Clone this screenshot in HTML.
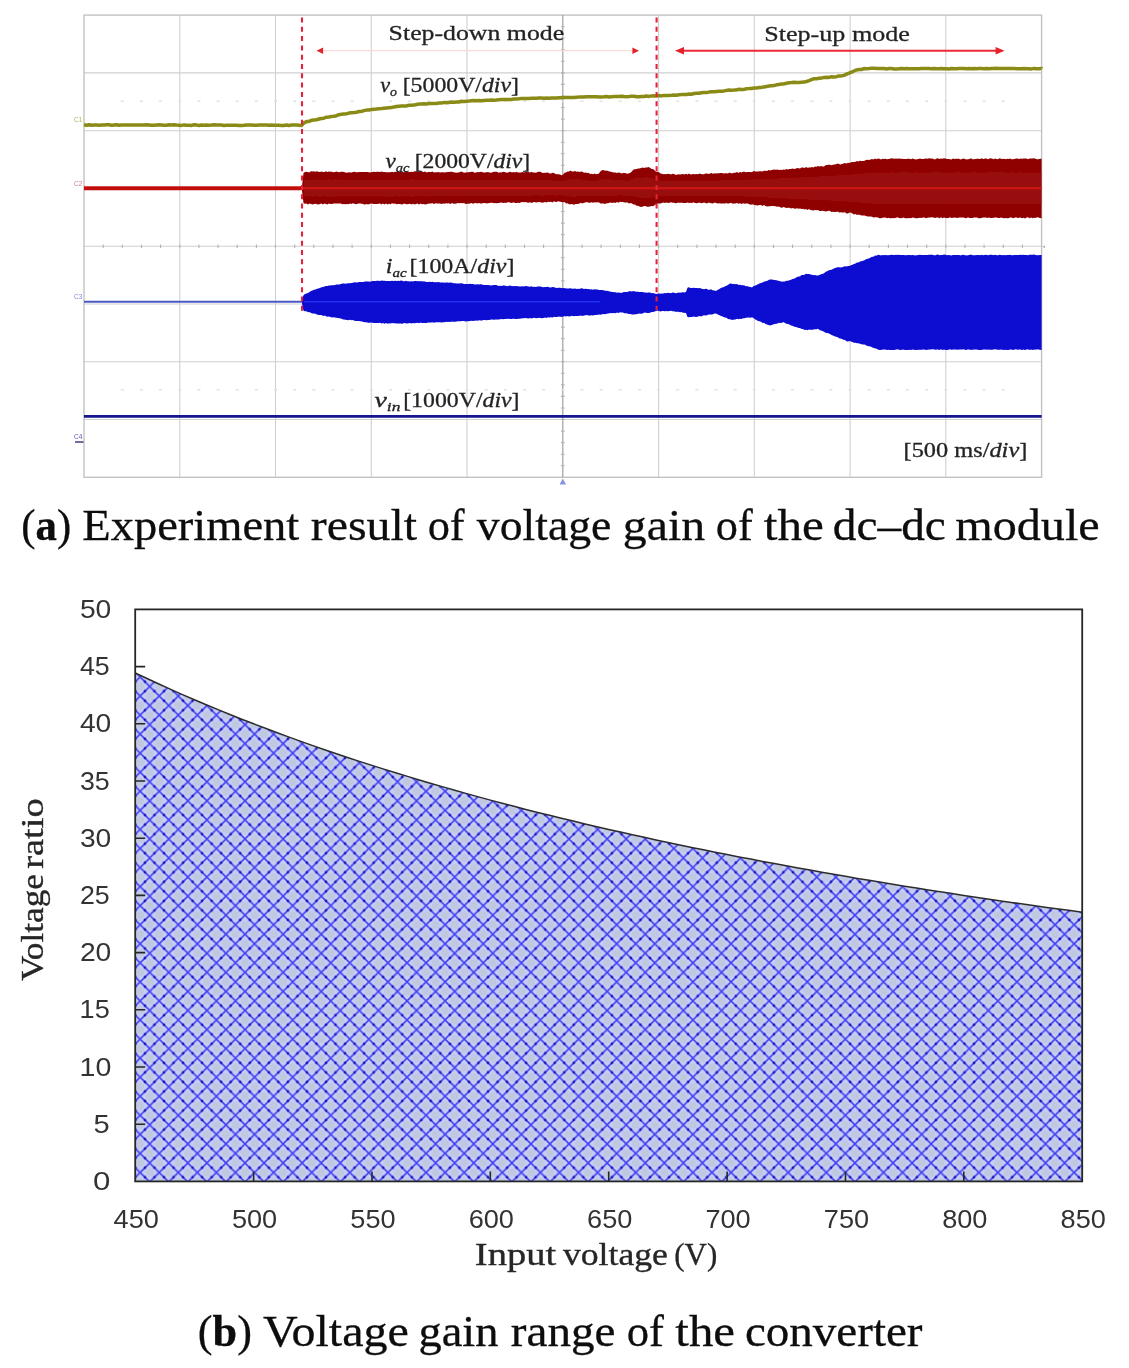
<!DOCTYPE html>
<html lang="en"><head><meta charset="utf-8"><title>Voltage gain of the dc-dc module</title>
<style>
html,body{margin:0;padding:0;background:#fff;}
body{width:1129px;height:1368px;overflow:hidden;}
svg{display:block;}
.se{font-family:"Liberation Serif","DejaVu Serif",serif;}
.sa{font-family:"Liberation Sans","DejaVu Sans",sans-serif;}
</style></head><body>
<svg width="1129" height="1368" viewBox="0 0 1129 1368">
<defs>
<filter id="soft" x="-2%" y="-2%" width="104%" height="104%"><feGaussianBlur stdDeviation="0.55"/></filter>
<filter id="softg" x="-2%" y="-2%" width="104%" height="104%"><feGaussianBlur stdDeviation="0.65"/></filter>
<pattern id="hatch" width="19.06" height="19.06" patternUnits="userSpaceOnUse" x="16.28" y="0.32">
<rect width="19.06" height="19.06" fill="#c6cdf4"/>
<path d="M9.53,0 h0 M0,9.53 h0 M19.06,9.53 h0 M9.53,19.06 h0" stroke="#bfc8de" stroke-width="7.5" stroke-linecap="round" fill="none"/>
<path d="M-1,-1 L20.06,20.06 M20.06,-1 L-1,20.06" stroke="#4441f2" stroke-width="1.55" fill="none"/>
<path d="M4.76,4.76 h0 M14.29,4.76 h0 M4.76,14.29 h0 M14.29,14.29 h0" stroke="#1d18b4" stroke-width="2.7" stroke-linecap="round" fill="none"/>
</pattern>
<clipPath id="plotclip"><rect x="134.5" y="609.4" width="948" height="572"/></clipPath>
</defs>
<rect width="1129" height="1368" fill="#ffffff"/>
<g filter="url(#softg)">
<path d="M179.8,15.1 V477.3 M275.5,15.1 V477.3 M371.3,15.1 V477.3 M467,15.1 V477.3 M658.6,15.1 V477.3 M754.3,15.1 V477.3 M850.1,15.1 V477.3 M945.8,15.1 V477.3 M84,72.9 H1041.6 M84,130.7 H1041.6 M84,188.4 H1041.6 M84,246.2 H1041.6 M84,304 H1041.6 M84,361.8 H1041.6 M84,419.5 H1041.6" stroke="#d0d0d0" stroke-width="1.1" fill="none"/>
<rect x="84" y="15.1" width="957.6" height="462.2" fill="none" stroke="#c2c2c2" stroke-width="1.4"/>
<path d="M562.8,15.1 V477.3" stroke="#a0a0a0" stroke-width="1.2"/>
<path d="M103.2,244.4 v3.6 M122.3,244.4 v3.6 M141.5,244.4 v3.6 M160.6,244.4 v3.6 M179.8,244.4 v3.6 M198.9,244.4 v3.6 M218.1,244.4 v3.6 M237.2,244.4 v3.6 M256.4,244.4 v3.6 M275.5,244.4 v3.6 M294.7,244.4 v3.6 M313.8,244.4 v3.6 M333,244.4 v3.6 M352.1,244.4 v3.6 M371.3,244.4 v3.6 M390.4,244.4 v3.6 M409.6,244.4 v3.6 M428.7,244.4 v3.6 M447.9,244.4 v3.6 M467,244.4 v3.6 M486.2,244.4 v3.6 M505.3,244.4 v3.6 M524.5,244.4 v3.6 M543.6,244.4 v3.6 M562.8,244.4 v3.6 M582,244.4 v3.6 M601.1,244.4 v3.6 M620.3,244.4 v3.6 M639.4,244.4 v3.6 M658.6,244.4 v3.6 M677.7,244.4 v3.6 M696.9,244.4 v3.6 M716,244.4 v3.6 M735.2,244.4 v3.6 M754.3,244.4 v3.6 M773.5,244.4 v3.6 M792.6,244.4 v3.6 M811.8,244.4 v3.6 M830.9,244.4 v3.6 M850.1,244.4 v3.6 M869.2,244.4 v3.6 M888.4,244.4 v3.6 M907.5,244.4 v3.6 M926.7,244.4 v3.6 M945.8,244.4 v3.6 M965,244.4 v3.6 M984.1,244.4 v3.6 M1003.3,244.4 v3.6 M1022.4,244.4 v3.6 M561,26.7 h3.6 M561,38.2 h3.6 M561,49.8 h3.6 M561,61.3 h3.6 M561,72.9 h3.6 M561,84.4 h3.6 M561,96 h3.6 M561,107.5 h3.6 M561,119.1 h3.6 M561,130.7 h3.6 M561,142.2 h3.6 M561,153.8 h3.6 M561,165.3 h3.6 M561,176.9 h3.6 M561,188.4 h3.6 M561,200 h3.6 M561,211.5 h3.6 M561,223.1 h3.6 M561,234.6 h3.6 M561,246.2 h3.6 M561,257.8 h3.6 M561,269.3 h3.6 M561,280.9 h3.6 M561,292.4 h3.6 M561,304 h3.6 M561,315.5 h3.6 M561,327.1 h3.6 M561,338.6 h3.6 M561,350.2 h3.6 M561,361.8 h3.6 M561,373.3 h3.6 M561,384.9 h3.6 M561,396.4 h3.6 M561,408 h3.6 M561,419.5 h3.6 M561,431.1 h3.6 M561,442.6 h3.6 M561,454.2 h3.6 M561,465.7 h3.6" stroke="#b4b4b4" stroke-width="1.1" fill="none"/>
<path d="M120.8,101.2 h3 M140,101.2 h3 M159.1,101.2 h3 M178.3,101.2 h3 M197.4,101.2 h3 M216.6,101.2 h3 M235.7,101.2 h3 M254.9,101.2 h3 M274,101.2 h3 M293.2,101.2 h3 M312.3,101.2 h3 M331.5,101.2 h3 M350.6,101.2 h3 M369.8,101.2 h3 M388.9,101.2 h3 M408.1,101.2 h3 M427.2,101.2 h3 M446.4,101.2 h3 M465.5,101.2 h3 M484.7,101.2 h3 M503.8,101.2 h3 M523,101.2 h3 M542.1,101.2 h3 M561.3,101.2 h3 M580.5,101.2 h3 M599.6,101.2 h3 M618.8,101.2 h3 M637.9,101.2 h3 M657.1,101.2 h3 M676.2,101.2 h3 M695.4,101.2 h3 M714.5,101.2 h3 M733.7,101.2 h3 M752.8,101.2 h3 M772,101.2 h3 M791.1,101.2 h3 M810.3,101.2 h3 M829.4,101.2 h3 M848.6,101.2 h3 M867.7,101.2 h3 M886.9,101.2 h3 M906,101.2 h3 M925.2,101.2 h3 M944.3,101.2 h3 M963.5,101.2 h3 M982.6,101.2 h3 M1001.8,101.2 h3 M120.8,389.8 h3 M140,389.8 h3 M159.1,389.8 h3 M178.3,389.8 h3 M197.4,389.8 h3 M216.6,389.8 h3 M235.7,389.8 h3 M254.9,389.8 h3 M274,389.8 h3 M293.2,389.8 h3 M312.3,389.8 h3 M331.5,389.8 h3 M350.6,389.8 h3 M369.8,389.8 h3 M388.9,389.8 h3 M408.1,389.8 h3 M427.2,389.8 h3 M446.4,389.8 h3 M465.5,389.8 h3 M484.7,389.8 h3 M503.8,389.8 h3 M523,389.8 h3 M542.1,389.8 h3 M561.3,389.8 h3 M580.5,389.8 h3 M599.6,389.8 h3 M618.8,389.8 h3 M637.9,389.8 h3 M657.1,389.8 h3 M676.2,389.8 h3 M695.4,389.8 h3 M714.5,389.8 h3 M733.7,389.8 h3 M752.8,389.8 h3 M772,389.8 h3 M791.1,389.8 h3 M810.3,389.8 h3 M829.4,389.8 h3 M848.6,389.8 h3 M867.7,389.8 h3 M886.9,389.8 h3 M906,389.8 h3 M925.2,389.8 h3 M944.3,389.8 h3 M963.5,389.8 h3 M982.6,389.8 h3 M1001.8,389.8 h3" stroke="#e2e2e2" stroke-width="1.6" fill="none"/>
</g>
<g filter="url(#soft)">
<path d="M84,124.8 86.5,125.2 89,124.8 91.5,125.3 94,125 96.5,125.1 99,125.2 101.5,125 104,124.9 106.5,124.8 109,124.8 111.5,125.2 114,125 116.5,124.8 119,125.3 121.5,124.9 124,125 126.5,124.9 129,125.1 131.5,125.1 134,125.1 136.5,124.9 139,124.9 141.5,124.9 144,125 146.5,124.8 149,124.9 151.5,125.3 154,125.3 156.5,124.9 159,124.8 161.5,124.9 164,125.2 166.5,125.2 169,124.8 171.5,125.1 174,124.8 176.5,125.1 179,125.2 181.5,125.4 184,124.9 186.5,125.3 189,125.3 191.5,125.4 194,124.8 196.5,125.1 199,125.4 201.5,125 204,125.3 206.5,125.1 209,125.3 211.5,125.1 214,124.8 216.5,124.9 219,124.9 221.5,125 224,125.4 226.5,125.2 229,125.3 231.5,125.2 234,125.2 236.5,125.3 239,125.4 241.5,125.4 244,125.3 246.5,124.9 249,125.1 251.5,124.9 254,125.2 256.5,125.3 259,124.9 261.5,125 264,125.1 266.5,125 269,125.3 271.5,125.1 274,125.3 276.5,125.2 279,125.2 281.5,125.4 284,125.4 286.5,125 289,125.4 291.5,125.1 294,125 296.5,125.1 299,125.2 301.5,125.5 304,122.9 306.5,121.6 309,121.4 311.5,120.3 314,120 316.5,119.7 319,119 321.5,118.5 324,118.2 326.5,117.2 329,117 331.5,116.4 334,116.3 336.5,115.7 339,114.7 341.5,114.3 344,114 346.5,113.7 349,113.1 351.5,112.7 354,112.6 356.5,112.2 359,111.5 361.5,111.4 364,110.6 366.5,110.1 369,109.9 371.5,109.6 374,109.3 376.5,109.1 379,108.7 381.5,108.5 384,108.2 386.5,107.9 389,107.7 391.5,107.6 394,106.9 396.5,106.5 399,106.3 401.5,106.1 404,105.9 406.5,105.9 409,105.2 411.5,105.2 414,105.1 416.5,104.5 419,104.1 421.5,104 424,103.8 426.5,104.1 429,103.5 431.5,103.4 434,103.6 436.5,103.4 439,103.1 441.5,103.1 444,102.4 446.5,102.8 449,102.4 451.5,102.1 454,102.2 456.5,102 459,102 461.5,101.3 464,101.4 466.5,101.2 469,101.1 471.5,100.8 474,100.6 476.5,100.8 479,100.5 481.5,100.7 484,100.4 486.5,100.2 489,100.3 491.5,100.1 494,100.2 496.5,100 499,99.7 501.5,99.4 504,99.6 506.5,99.5 509,99.4 511.5,99.5 514,98.9 516.5,98.9 519,98.8 521.5,98.6 524,98.6 526.5,98.6 529,98.6 531.5,98.3 534,98.2 536.5,98.2 539,98.1 541.5,98.1 544,98.2 546.5,98.1 549,98.3 551.5,98 554,97.9 556.5,97.9 559,97.8 561.5,97.7 564,97.6 566.5,97.6 569,97.4 571.5,97.6 574,97.4 576.5,97.2 579,97.1 581.5,96.9 584,97.1 586.5,96.8 589,96.8 591.5,96.7 594,96.8 596.5,96.8 599,96.9 601.5,96.9 604,96.8 606.5,96.5 609,96.9 611.5,96.7 614,96.6 616.5,96.6 619,96.5 621.5,96.3 624,96.6 626.5,96.8 629,96.6 631.5,96.3 634,96.2 636.5,96.7 639,96.7 641.5,96.5 644,96.5 646.5,96 649,96.4 651.5,95.9 654,95.8 656.5,95.9 659,95.5 661.5,95.9 664,95.4 666.5,95.6 669,95.4 671.5,95.3 674,95.1 676.5,95.2 679,94.7 681.5,94.6 684,94.4 686.5,94.5 689,94.1 691.5,94.2 694,93.5 696.5,93.3 699,93.2 701.5,92.7 704,92.5 706.5,92.6 709,92.1 711.5,91.7 714,91.8 716.5,91.4 719,91.3 721.5,91.2 724,90.9 726.5,90.4 729,90.1 731.5,90.2 734,90.1 736.5,89.9 739,89.3 741.5,89.4 744,89.4 746.5,88.7 749,88.6 751.5,88.4 754,88.1 756.5,88.1 759,87.5 761.5,87.4 764,86.9 766.5,86.5 769,86.1 771.5,85.8 774,85.6 776.5,84.8 779,84.4 781.5,84 784,83.9 786.5,83.3 789,82.8 791.5,82.6 794,82.3 796.5,82.4 799,82.5 801.5,82.2 804,82.1 806.5,81.5 809,80.7 811.5,79.7 814,78.7 816.5,78.7 819,78.3 821.5,78.1 824,77.4 826.5,77.3 829,77.4 831.5,76.8 834,76.9 836.5,76.7 839,75.9 841.5,75.9 844,75.4 846.5,74.2 849,73.2 851.5,72.1 854,71 856.5,69.9 859,69.6 861.5,69.5 864,68.6 866.5,68.8 869,68.6 871.5,68.3 874,68.3 876.5,68.6 879,68.4 881.5,68.5 884,68.5 886.5,68.9 889,68.6 891.5,68.5 894,68.9 896.5,68.9 899,68.7 901.5,68.4 904,68.8 906.5,68.6 909,68.8 911.5,68.7 914,68.7 916.5,68.8 919,68.8 921.5,68.6 924,68.6 926.5,68.4 929,68.5 931.5,68.8 934,68.4 936.5,68.7 939,68.8 941.5,68.4 944,68.8 946.5,68.7 949,68.9 951.5,68.5 954,68.8 956.5,68.8 959,68.5 961.5,68.4 964,68.5 966.5,68.7 969,68.5 971.5,68.8 974,68.5 976.5,68.8 979,68.5 981.5,68.6 984,68.8 986.5,68.6 989,68.7 991.5,68.5 994,68.6 996.5,68.3 999,68.6 1001.5,68.6 1004,68.5 1006.5,68.4 1009,68.5 1011.5,68.5 1014,68.5 1016.5,68.8 1019,68.8 1021.5,68.8 1024,68.6 1026.5,68.8 1029,68.7 1031.5,68.9 1034,68.4 1036.5,68.8 1039,68.7 1041.5,68.6 1041.6,68.8" stroke="#8a8a16" stroke-width="3.5" fill="none" stroke-linejoin="round"/>
<path d="M84,188.3 H303" stroke="#c30d0d" stroke-width="4"/>
<path d="M302,186.1 303.5,173.1 305,171.9 306.5,171.7 308,172.2 309.5,172.2 311,171.3 312.5,171.4 314,171.2 315.5,171.7 317,171.2 318.5,171.8 320,172 321.5,171.6 323,172.1 324.5,172 326,171.3 327.5,172 329,171.6 330.5,171.8 332,171.7 333.5,172.2 335,171.9 336.5,171.6 338,172 339.5,172.3 341,171.8 342.5,171.7 344,171.9 345.5,172.6 347,172.7 348.5,172.3 350,172.6 351.5,172.5 353,172 354.5,171.7 356,172.3 357.5,172.2 359,172 360.5,171.9 362,172.1 363.5,172.1 365,171.9 366.5,171.9 368,172.1 369.5,172.6 371,172.2 372.5,171.9 374,171.8 375.5,172 377,171.7 378.5,171.7 380,172.1 381.5,171.6 383,172 384.5,171.9 386,172.3 387.5,172.3 389,172.2 390.5,172.2 392,171.8 393.5,172.2 395,171.8 396.5,172 398,171.7 399.5,171.9 401,171.4 402.5,171.6 404,172.5 405.5,171.6 407,172.1 408.5,172.1 410,172.1 411.5,171.8 413,172 414.5,171.3 416,171.3 417.5,171.5 419,171.4 420.5,171.3 422,171.4 423.5,171.9 425,171.5 426.5,172.4 428,172.1 429.5,171.9 431,172.1 432.5,171.6 434,172.4 435.5,172.3 437,172.2 438.5,171.9 440,172.4 441.5,172.3 443,172.2 444.5,172.5 446,172.2 447.5,171.9 449,172.1 450.5,171.7 452,171.7 453.5,172.3 455,172.4 456.5,172.7 458,172.5 459.5,172.2 461,171.6 462.5,172.1 464,172.7 465.5,172.5 467,172.2 468.5,172.2 470,171.9 471.5,171.8 473,171.7 474.5,172.7 476,172.4 477.5,171.9 479,172.2 480.5,171.8 482,171.9 483.5,172.6 485,172.5 486.5,172.3 488,172 489.5,172.5 491,172.8 492.5,172.2 494,171.7 495.5,171.7 497,171.7 498.5,172.8 500,172.3 501.5,172.6 503,171.8 504.5,171.9 506,172.4 507.5,172.7 509,172 510.5,171.7 512,172.6 513.5,171.9 515,172.5 516.5,171.8 518,172.4 519.5,172.6 521,172.4 522.5,172 524,172.4 525.5,171.7 527,171.9 528.5,172 530,172.6 531.5,171.7 533,172.6 534.5,172.5 536,172.7 537.5,171.9 539,171.7 540.5,171.8 542,172.7 543.5,173 545,172.8 546.5,172.7 548,172.6 549.5,173.4 551,173.6 552.5,172.8 554,173.1 555.5,174 557,174.3 558.5,174.2 560,174.6 561.5,175.3 563,174.7 564.5,172.8 566,172.4 567.5,171.6 569,171.5 570.5,170.6 572,171.6 573.5,171.4 575,171 576.5,171.8 578,171.6 579.5,172.1 581,171.4 582.5,171.7 584,172.8 585.5,172.5 587,173 588.5,172.8 590,174 591.5,173.7 593,174.3 594.5,173.6 596,174.3 597.5,174 599,173.6 600.5,171.3 602,170.3 603.5,170 605,170.8 606.5,170.5 608,170.9 609.5,171.4 611,171.8 612.5,172.3 614,172.6 615.5,172.6 617,173 618.5,172.6 620,172.8 621.5,173.6 623,172.9 624.5,173.1 626,173.3 627.5,173.7 629,173.2 630.5,172.7 632,171.3 633.5,169.4 635,169.3 636.5,168.9 638,168.6 639.5,168.6 641,168.1 642.5,167.6 644,167.9 645.5,167.6 647,167.6 648.5,167.1 650,167.8 651.5,169 653,169.1 654.5,170.3 656,171.8 657.5,171.7 659,172.3 660.5,173.6 662,173.8 663.5,174.2 665,173.9 666.5,174.3 668,173.8 669.5,174 671,174.6 672.5,173.8 674,174 675.5,174.8 677,174.8 678.5,174.2 680,174.5 681.5,174.3 683,174.1 684.5,174.5 686,173.7 687.5,174.5 689,173.5 690.5,174.5 692,174.2 693.5,173.9 695,174.2 696.5,173.9 698,174.3 699.5,173.4 701,173.9 702.5,174.3 704,174.3 705.5,173.4 707,173.4 708.5,174.1 710,173.4 711.5,173 713,173.7 714.5,173.3 716,173.6 717.5,173.3 719,173.2 720.5,173.1 722,172.9 723.5,173.6 725,173.2 726.5,173.3 728,173.4 729.5,172.6 731,173.3 732.5,173.2 734,172.7 735.5,172.7 737,172.1 738.5,172.9 740,172.1 741.5,172.4 743,171.8 744.5,171.7 746,172.2 747.5,172 749,172.1 750.5,172.1 752,172.3 753.5,171.1 755,171.6 756.5,171.5 758,171.5 759.5,171.2 761,171.2 762.5,171.4 764,170.8 765.5,170.8 767,170.9 768.5,170.1 770,170.4 771.5,169.9 773,169.8 774.5,169.6 776,169.7 777.5,169.6 779,169.9 780.5,169.8 782,170 783.5,169.5 785,169.8 786.5,169.1 788,169.4 789.5,169 791,169 792.5,168.4 794,169.1 795.5,168.8 797,167.9 798.5,168.2 800,168.6 801.5,167.4 803,167.6 804.5,167.9 806,167 807.5,167.7 809,167.4 810.5,167.4 812,167.1 813.5,167.4 815,166.6 816.5,166.7 818,165.9 819.5,166.4 821,166.1 822.5,166.6 824,166.4 825.5,165.2 827,164.9 828.5,164.8 830,164.7 831.5,165.2 833,164.8 834.5,164.6 836,164.3 837.5,163.6 839,163.9 840.5,164.4 842,164 843.5,163.6 845,162.9 846.5,163.6 848,162.8 849.5,162.9 851,162.2 852.5,162.1 854,161.9 855.5,161.7 857,161.1 858.5,161.6 860,160.8 861.5,161.1 863,160.9 864.5,160.7 866,160 867.5,159.8 869,160.1 870.5,159.5 872,159 873.5,159.6 875,158.4 876.5,159.3 878,158.6 879.5,158.7 881,159.4 882.5,158.7 884,159.1 885.5,158.7 887,159.3 888.5,159.1 890,158.8 891.5,158.3 893,158.6 894.5,158.8 896,158.5 897.5,158.8 899,158.5 900.5,158.8 902,158.8 903.5,159 905,159.1 906.5,159.1 908,158.7 909.5,158.7 911,159.2 912.5,158.6 914,159.1 915.5,159.4 917,159.3 918.5,158.9 920,158.6 921.5,158.9 923,159 924.5,158.8 926,158.6 927.5,158.7 929,158.3 930.5,158.5 932,158.4 933.5,159 935,159.4 936.5,158.4 938,158.2 939.5,159.1 941,158.6 942.5,158.8 944,158.3 945.5,158.4 947,159 948.5,158.9 950,159.2 951.5,159.4 953,158.6 954.5,158.9 956,158.7 957.5,158.8 959,158.7 960.5,159.4 962,158.9 963.5,158.4 965,159 966.5,159.4 968,159.3 969.5,158.9 971,158.2 972.5,159.2 974,159.3 975.5,159.1 977,158.7 978.5,158.7 980,159.1 981.5,158.3 983,159.1 984.5,158.8 986,158.3 987.5,159.2 989,158.7 990.5,158.3 992,158.4 993.5,159.2 995,158.4 996.5,159.1 998,159.2 999.5,158.3 1001,158.7 1002.5,159.1 1004,158.8 1005.5,159.2 1007,158.7 1008.5,159 1010,158.5 1011.5,159.2 1013,159.2 1014.5,158.9 1016,158.6 1017.5,158.6 1019,158.9 1020.5,158.4 1022,158.8 1023.5,158.6 1025,158.6 1026.5,158.6 1028,159.2 1029.5,158.4 1031,158.5 1032.5,158.4 1034,158.2 1035.5,158.7 1037,159.2 1038.5,159.3 1040,158.8 1041.5,158.7 1041.6,159.2 L1041.6,218.2 1041.5,218.3 1040,218 1038.5,217.5 1037,217.3 1035.5,218 1034,217.8 1032.5,218.3 1031,217.5 1029.5,218.3 1028,217.3 1026.5,217.5 1025,218.4 1023.5,217.8 1022,218.3 1020.5,217.4 1019,217.8 1017.5,217.9 1016,217.3 1014.5,217.7 1013,218.3 1011.5,217.4 1010,217.5 1008.5,218.3 1007,218.2 1005.5,218.1 1004,218.3 1002.5,218 1001,217.4 999.5,218.1 998,217.9 996.5,217.5 995,217.4 993.5,217.8 992,218.1 990.5,218.1 989,217.5 987.5,218 986,217.5 984.5,217.6 983,217.5 981.5,218.1 980,218.2 978.5,218.2 977,217.5 975.5,217.5 974,217.5 972.5,218.1 971,217.9 969.5,217.9 968,217.3 966.5,218.3 965,217.9 963.5,217.4 962,217.4 960.5,217.6 959,217.6 957.5,217.9 956,217.8 954.5,217.5 953,217.7 951.5,217.9 950,217.2 948.5,218 947,218.1 945.5,218.1 944,217.6 942.5,218.3 941,217.3 939.5,218.2 938,217.5 936.5,217.5 935,217.9 933.5,217.4 932,217.3 930.5,217.5 929,217.6 927.5,217.8 926,218.2 924.5,217.4 923,217.6 921.5,217.9 920,217.8 918.5,218.1 917,218.3 915.5,218.3 914,217.8 912.5,217.4 911,218.2 909.5,217.9 908,218.2 906.5,218.2 905,218.2 903.5,217.4 902,217.9 900.5,218.3 899,218 897.5,217.3 896,217.7 894.5,218.2 893,218.1 891.5,218.2 890,218.2 888.5,217.8 887,218.2 885.5,217.6 884,217.4 882.5,217.7 881,218.3 879.5,218.3 878,217.4 876.5,217.3 875,217.2 873.5,217.6 872,216.7 870.5,216.4 869,216.4 867.5,216.4 866,215.9 864.5,215.5 863,215.6 861.5,215.6 860,214.9 858.5,214.5 857,214.9 855.5,214.1 854,214.5 852.5,213.5 851,212.8 849.5,212.6 848,213.6 846.5,213.4 845,212.3 843.5,212.5 842,212.4 840.5,212.2 839,212.6 837.5,211.5 836,211.9 834.5,211.9 833,211.7 831.5,211.9 830,210.9 828.5,210.8 827,211.2 825.5,211.5 824,210.9 822.5,210.7 821,210.9 819.5,210.9 818,210.1 816.5,210.3 815,210.1 813.5,210.4 812,210.2 810.5,209.9 809,209.1 807.5,210 806,209.1 804.5,209.5 803,208.7 801.5,209.1 800,208.5 798.5,208.8 797,208.2 795.5,208.7 794,208.4 792.5,208.1 791,208.4 789.5,207.7 788,207.8 786.5,208 785,207.6 783.5,207.1 782,207.8 780.5,207.6 779,206.6 777.5,206.8 776,206.5 774.5,206 773,206.1 771.5,206.1 770,206.2 768.5,206.3 767,206.4 765.5,206.1 764,205.1 762.5,206 761,205 759.5,205 758,205.6 756.5,205.2 755,205.3 753.5,204.4 752,204.5 750.5,204.7 749,204.1 747.5,203.6 746,203.5 744.5,203.7 743,203.3 741.5,204 740,203.3 738.5,203.7 737,202.9 735.5,203.6 734,203.6 732.5,203.8 731,202.8 729.5,203.3 728,203.7 726.5,202.9 725,203.4 723.5,203.4 722,203.4 720.5,203.6 719,203.3 717.5,203.4 716,203.1 714.5,202.5 713,203.5 711.5,203.2 710,203 708.5,202.5 707,203.4 705.5,203 704,202.6 702.5,202.9 701,203.3 699.5,202.4 698,202.9 696.5,203.3 695,203.1 693.5,202.3 692,203.1 690.5,202.8 689,203.1 687.5,202.4 686,202.9 684.5,202.9 683,203 681.5,202.5 680,203 678.5,202.6 677,203.1 675.5,203.3 674,202.8 672.5,202.8 671,202.2 669.5,202.7 668,203 666.5,202.4 665,203.1 663.5,202.6 662,202.9 660.5,203.4 659,203.4 657.5,203.5 656,204.2 654.5,205.3 653,206.2 651.5,206 650,206.5 648.5,206.7 647,206.8 645.5,206 644,206.1 642.5,206.7 641,206.9 639.5,206.4 638,205.7 636.5,205.7 635,204.6 633.5,204.4 632,203.6 630.5,203.1 629,203.5 627.5,202.6 626,202.5 624.5,202.6 623,201.9 621.5,202 620,201.7 618.5,202.8 617,201.9 615.5,203.1 614,202.6 612.5,203 611,202.4 609.5,202.8 608,203.2 606.5,203.3 605,204 603.5,203.4 602,203.5 600.5,203.4 599,202.6 597.5,202.3 596,202.4 594.5,202.3 593,202.8 591.5,202.3 590,202.8 588.5,202.7 587,202.1 585.5,202.5 584,202.7 582.5,203.6 581,202.7 579.5,203.4 578,203.9 576.5,203.9 575,204.2 573.5,204.7 572,204.1 570.5,204.3 569,204.3 567.5,203.3 566,203.4 564.5,202 563,202.3 561.5,202 560,201.8 558.5,201.3 557,201.8 555.5,202 554,201.3 552.5,202.5 551,201.8 549.5,201.9 548,201.7 546.5,202.6 545,201.9 543.5,202.5 542,202.8 540.5,202.3 539,202.1 537.5,202.3 536,202.5 534.5,202 533,202.3 531.5,202.9 530,202.2 528.5,202.8 527,202.4 525.5,202.1 524,202.3 522.5,202.1 521,202.3 519.5,202.9 518,202.8 516.5,203.1 515,203 513.5,202.2 512,202.9 510.5,202.7 509,202.3 507.5,202.3 506,202.9 504.5,202.7 503,203.1 501.5,202.4 500,202.7 498.5,203.1 497,203.2 495.5,202.9 494,203.2 492.5,202.8 491,202.7 489.5,203.1 488,203.3 486.5,203.4 485,203.1 483.5,202.9 482,203.5 480.5,203.6 479,202.9 477.5,203.5 476,202.9 474.5,203.3 473,203.8 471.5,203.1 470,203.6 468.5,203.8 467,203.7 465.5,204 464,203.1 462.5,203.2 461,203.1 459.5,203.2 458,202.9 456.5,203.5 455,203.8 453.5,203.7 452,203 450.5,203.9 449,203.3 447.5,203.4 446,203.2 444.5,203.7 443,203.6 441.5,203.9 440,203.6 438.5,203.4 437,203.4 435.5,203.3 434,204 432.5,203.2 431,203.6 429.5,203.4 428,203.8 426.5,204.3 425,204.4 423.5,204.1 422,204.3 420.5,203.5 419,204.4 417.5,203.6 416,204 414.5,204.4 413,203.7 411.5,204.4 410,203.7 408.5,204.1 407,204.2 405.5,204 404,203.5 402.5,204.5 401,204.2 399.5,203.9 398,204.1 396.5,204.2 395,203.6 393.5,203.8 392,203.3 390.5,204.3 389,203.7 387.5,204.5 386,203.4 384.5,204.5 383,203.5 381.5,204.4 380,203.4 378.5,203.8 377,204.1 375.5,204.1 374,204.1 372.5,203.8 371,203.6 369.5,204.1 368,204.4 366.5,204.1 365,204.4 363.5,204.3 362,203.7 360.5,203.5 359,203.6 357.5,203.8 356,204.2 354.5,203.8 353,203.3 351.5,203.9 350,203.4 348.5,204.2 347,204 345.5,204.2 344,204.1 342.5,204.2 341,203.6 339.5,203.4 338,203.5 336.5,203.4 335,203.6 333.5,203.5 332,204.1 330.5,203.9 329,203.5 327.5,204.4 326,204.1 324.5,203.4 323,204.4 321.5,203.4 320,204.1 318.5,204.4 317,204.2 315.5,203.8 314,204 312.5,204.5 311,204 309.5,203.5 308,204.4 306.5,203.5 305,203.8 303.5,203.2 302,190.5Z" fill="#8f0404"/>
<path d="M304,179.7 308,179.3 312,179.1 316,179.2 320,179.4 324,179.4 328,179.1 332,179.2 336,179.1 340,179.3 344,179.2 348,179.4 352,179.5 356,179.3 360,179.5 364,179.5 368,179.2 372,179.4 376,179.3 380,179.3 384,179.3 388,179.4 392,179.3 396,179.2 400,179.3 404,179.4 408,179.2 412,179.1 416,179.2 420,179.4 424,179.4 428,179.3 432,179.4 436,179.4 440,179.3 444,179.2 448,179.4 452,179.4 456,179.3 460,179.3 464,179.4 468,179.4 472,179.4 476,179.4 480,179.5 484,179.6 488,179.5 492,179.4 496,179.4 500,179.4 504,179.3 508,179.3 512,179.4 516,179.3 520,179.4 524,179.4 528,179.5 532,179.5 536,179.5 540,179.5 544,179.5 548,179.9 552,179.9 556,180.2 560,180.8 564,180.3 568,178.9 572,178.7 576,179.1 580,179.1 584,179.7 588,180 592,180.4 596,180.6 600,179.2 604,178.4 608,178.7 612,179.2 616,179.6 620,179.8 624,180 628,180.3 632,178.8 636,177.6 640,177.4 644,177.1 648,176.9 652,177.5 656,179.1 660,180.1 664,180.6 668,180.6 672,180.7 676,180.7 680,180.6 684,180.7 688,180.5 692,180.4 696,180.4 700,180.3 704,180.2 708,180.3 712,180.3 716,180.3 720,180.1 724,179.9 728,179.7 732,179.8 736,179.9 740,179.7 744,179.5 748,179.3 752,179.1 756,178.9 760,178.7 764,178.9 768,178.6 772,178.3 776,178.2 780,177.9 784,177.8 788,177.8 792,177.6 796,177.3 800,177.1 804,177 808,177 812,176.6 816,176.2 820,176 824,175.8 828,175.9 832,175.4 836,175.3 840,174.7 844,174.5 848,174.4 852,174.2 856,173.7 860,173.2 864,173.2 868,172.6 872,172.5 876,171.9 880,172.2 884,172.2 888,172.2 892,172 896,172.2 900,171.9 904,172 908,172 912,172.2 916,171.9 920,172.2 924,172.2 928,172.3 932,172 936,172 940,172 944,172.2 948,172.3 952,172.2 956,172.1 960,172 964,172.2 968,172.2 972,171.9 976,172 980,172.2 984,172.2 988,172 992,172 996,172 1000,172.1 1004,171.9 1008,172.2 1012,172.1 1016,172.2 1020,172 1024,172.3 1028,172.2 1032,172 1036,172.3 1040,172.2 1041.6,172.2 L1041.6,204.6 1040,204.3 1036,204.5 1032,204.5 1028,204.5 1024,204.4 1020,204.6 1016,204.5 1012,204.7 1008,204.4 1004,204.5 1000,204.6 996,204.7 992,204.5 988,204.3 984,204.5 980,204.5 976,204.5 972,204.6 968,204.4 964,204.3 960,204.3 956,204.4 952,204.7 948,204.7 944,204.5 940,204.5 936,204.3 932,204.5 928,204.4 924,204.7 920,204.5 916,204.6 912,204.5 908,204.6 904,204.3 900,204.6 896,204.4 892,204.3 888,204.7 884,204.5 880,204.3 876,204.6 872,204.3 868,203.6 864,203.4 860,203 856,202.7 852,202.1 848,202.1 844,201.7 840,201.6 836,201.3 832,201.1 828,200.8 824,200.6 820,200.3 816,200.2 812,200 808,199.9 804,199.6 800,199.6 796,199.4 792,199.1 788,199.1 784,198.8 780,198.6 776,198.5 772,198.2 768,198.1 764,197.6 760,197.8 756,197.5 752,197.3 748,197 744,196.9 740,196.5 736,196.5 732,196.6 728,196.4 724,196.6 720,196.3 716,196.5 712,196.4 708,196.5 704,196.5 700,196.2 696,196.4 692,196.4 688,196.3 684,196.4 680,196.2 676,196.2 672,196.3 668,196.3 664,196.4 660,196.2 656,197.4 652,198 648,198.2 644,198.5 640,198.3 636,197.6 632,196.6 628,196.4 624,196.1 620,195.8 616,196.2 612,196.3 608,196.6 604,196.8 600,196.5 596,196.3 592,195.9 588,196.3 584,196.2 580,196.7 576,196.9 572,197.3 568,196.8 564,196 560,195.8 556,195.9 552,195.7 548,195.7 544,196 540,195.9 536,195.8 532,196 528,195.9 524,196.2 520,196.2 516,196.3 512,196.1 508,196.2 504,196.5 500,196.3 496,196.3 492,196.5 488,196.3 484,196.3 480,196.5 476,196.5 472,196.5 468,196.4 464,196.6 460,196.7 456,196.7 452,196.8 448,196.8 444,196.6 440,196.8 436,196.6 432,196.6 428,196.9 424,196.8 420,196.8 416,196.8 412,197 408,196.8 404,196.8 400,196.9 396,196.8 392,196.9 388,196.9 384,196.9 380,196.8 376,196.7 372,196.7 368,196.9 364,196.7 360,196.7 356,196.8 352,197 348,196.7 344,196.8 340,196.7 336,197 332,196.9 328,197.1 324,196.8 320,196.9 316,196.8 312,197 308,196.8 304,196.4Z" fill="#a80e0e" opacity="0.35"/>
<path d="M302,188.3 H1041.6" stroke="#d01818" stroke-width="2.6" opacity="0.9"/>
<path d="M84,301.8 H303" stroke="#4a58c4" stroke-width="1.9"/>
<path d="M302,300 303.5,295.3 305,294.1 306.5,293.5 308,292.9 309.5,292.1 311,290.9 312.5,290.4 314,289.7 315.5,289.5 317,288.7 318.5,288.5 320,288.1 321.5,287.3 323,287.1 324.5,286.6 326,285.9 327.5,286.1 329,285.6 330.5,285.5 332,285.2 333.5,285.3 335,284.9 336.5,284.4 338,284.5 339.5,284.5 341,283.9 342.5,283.6 344,283.5 345.5,283.7 347,283.6 348.5,283.3 350,283.3 351.5,283.1 353,282.7 354.5,282.3 356,282.6 357.5,282.4 359,282.1 360.5,281.9 362,281.9 363.5,281.9 365,281.6 366.5,281.5 368,281.5 369.5,281.7 371,281.4 372.5,281 374,281 375.5,281.1 377,280.8 378.5,280.8 380,281 381.5,280.6 383,280.8 384.5,280.7 386,281 387.5,281 389,281 390.5,281 392,280.7 393.5,281 395,280.7 396.5,280.9 398,280.7 399.5,280.9 401,280.6 402.5,280.8 404,281.4 405.5,280.8 407,281.3 408.5,281.3 410,281.4 411.5,281.2 413,281.4 414.5,281 416,281 417.5,281.2 419,281.2 420.5,281.2 422,281.3 423.5,281.6 425,281.4 426.5,282.1 428,281.9 429.5,281.8 431,282 432.5,281.7 434,282.3 435.5,282.2 437,282.2 438.5,282 440,282.4 441.5,282.4 443,282.4 444.5,282.7 446,282.6 447.5,282.5 449,282.7 450.5,282.6 452,282.7 453.5,283.2 455,283.3 456.5,283.6 458,283.6 459.5,283.4 461,283.2 462.5,283.6 464,284 465.5,284 467,283.9 468.5,283.9 470,283.8 471.5,283.9 473,283.9 474.5,284.6 476,284.5 477.5,284.2 479,284.5 480.5,284.3 482,284.5 483.5,285 485,285 486.5,284.9 488,284.9 489.5,285.2 491,285.6 492.5,285.2 494,285 495.5,285.1 497,285.2 498.5,286 500,285.7 501.5,286 503,285.5 504.5,285.6 506,286 507.5,286.2 509,285.8 510.5,285.6 512,286.3 513.5,285.9 515,286.3 516.5,285.9 518,286.3 519.5,286.5 521,286.4 522.5,286.2 524,286.5 525.5,286.1 527,286.2 528.5,286.4 530,286.8 531.5,286.2 533,286.9 534.5,286.8 536,287 537.5,286.6 539,286.5 540.5,286.6 542,287.1 543.5,287.2 545,287.1 546.5,286.9 548,286.8 549.5,287.4 551,287.5 552.5,287 554,287.2 555.5,287.8 557,288 558.5,287.7 560,287.7 561.5,288 563,288.2 564.5,287.9 566,288.6 567.5,288.4 569,288.6 570.5,288.2 572,288.8 573.5,288.7 575,288.4 576.5,288.9 578,288.7 579.5,288.9 581,288.3 582.5,288.4 584,289 585.5,288.8 587,289.1 588.5,288.9 590,289.6 591.5,289.3 593,289.7 594.5,289.2 596,289.6 597.5,289.4 599,290.1 600.5,290 602,289.9 603.5,290.2 605,290.8 606.5,290.7 608,291 609.5,291.5 611,291.7 612.5,292 614,292.3 615.5,292.3 617,292.7 618.5,292.5 620,292.8 621.5,293 623,292.3 624.5,292.1 626,291.9 627.5,291.9 629,291.3 630.5,291.2 632,291.4 633.5,291 635,291.4 636.5,291.7 638,291.7 639.5,292 641,292 642.5,291.9 644,292.4 645.5,292.5 647,292.8 648.5,292.4 650,292.6 651.5,293.3 653,293.1 654.5,293.4 656,294.1 657.5,293.7 659,293.5 660.5,293.8 662,293.6 663.5,293.6 665,293 666.5,293.3 668,292.8 669.5,292.9 671,293.2 672.5,292.6 674,292.7 675.5,293.2 677,293.1 678.5,292.6 680,292.7 681.5,292.6 683,292.3 684.5,292.6 686,291.9 687.5,287.8 689,287.2 690.5,288 692,287.9 693.5,287.8 695,288.1 696.5,288 698,288.3 699.5,287.9 701,288.4 702.5,288.9 704,289.2 705.5,288.8 707,289.1 708.5,289.9 710,289.6 711.5,289.6 713,290.4 714.5,290.4 716,290.9 717.5,289.9 719,289.2 720.5,288.3 722,287.5 723.5,287.2 725,286.3 726.5,285.7 728,285 729.5,283.8 731,283.6 732.5,283.9 734,283.9 735.5,284.2 737,284.1 738.5,284.9 740,284.8 741.5,285.3 743,285.3 744.5,285.5 746,286.2 747.5,286.3 749,286.7 750.5,287.1 752,287.5 753.5,286 755,285.7 756.5,285 758,284.3 759.5,283.5 761,282.9 762.5,282.6 764,281.8 765.5,281.3 767,280.9 768.5,279.9 770,279.6 771.5,279.6 773,279.8 774.5,280 776,280.3 777.5,280.6 779,281 780.5,281.3 782,281.7 783.5,281.5 785,281.5 786.5,280.8 788,280.7 789.5,280.2 791,279.8 792.5,278.9 794,278.8 795.5,278.1 797,276.9 798.5,276.6 800,276.4 801.5,275.1 803,274.9 804.5,274.7 806,273.7 807.5,274 809,274.1 810.5,274.6 812,274.7 813.5,275.3 815,275.1 816.5,275.6 818,275.4 819.5,275.1 821,274.3 822.5,274 824,273.3 825.5,271.9 827,271.2 828.5,270.6 830,270 831.5,269.7 833,268.9 834.5,268.3 836,267.8 837.5,267.2 839,267.3 840.5,267.6 842,267.2 843.5,266.8 845,266.3 846.5,266.6 848,266 849.5,266 851,265.2 852.5,264.7 854,264.1 855.5,263.5 857,262.6 858.5,262.5 860,261.6 861.5,261.3 863,260.8 864.5,260.3 866,259.3 867.5,258.7 869,258.4 870.5,257.5 872,256.7 873.5,256.8 875,255.6 876.5,255.8 878,254.8 879.5,254.9 881,255.4 882.5,254.9 884,255.2 885.5,254.9 887,255.3 888.5,255.2 890,255 891.5,254.7 893,254.9 894.5,255 896,254.8 897.5,255 899,254.8 900.5,255 902,255 903.5,255.1 905,255.2 906.5,255.2 908,254.9 909.5,255 911,255.3 912.5,254.9 914,255.2 915.5,255.4 917,255.3 918.5,255 920,254.8 921.5,255.1 923,255.1 924.5,255 926,254.9 927.5,255 929,254.7 930.5,254.8 932,254.7 933.5,255.1 935,255.4 936.5,254.7 938,254.6 939.5,255.2 941,254.9 942.5,255 944,254.6 945.5,254.7 947,255.2 948.5,255.1 950,255.3 951.5,255.4 953,254.9 954.5,255.1 956,255 957.5,255 959,254.9 960.5,255.4 962,255.1 963.5,254.7 965,255.2 966.5,255.4 968,255.3 969.5,255 971,254.6 972.5,255.2 974,255.3 975.5,255.2 977,254.9 978.5,254.9 980,255.2 981.5,254.7 983,255.2 984.5,255 986,254.7 987.5,255.3 989,254.9 990.5,254.7 992,254.7 993.5,255.3 995,254.7 996.5,255.2 998,255.2 999.5,254.7 1001,254.9 1002.5,255.2 1004,255 1005.5,255.3 1007,254.9 1008.5,255.1 1010,254.8 1011.5,255.3 1013,255.3 1014.5,255.1 1016,254.9 1017.5,254.9 1019,255.1 1020.5,254.7 1022,255 1023.5,254.8 1025,254.9 1026.5,254.9 1028,255.3 1029.5,254.7 1031,254.8 1032.5,254.7 1034,254.6 1035.5,254.9 1037,255.3 1038.5,255.3 1040,255 1041.5,254.9 1041.6,255.3 L1041.6,349.9 1041.5,350 1040,349.7 1038.5,349.4 1037,349.3 1035.5,349.8 1034,349.6 1032.5,349.9 1031,349.4 1029.5,349.9 1028,349.2 1026.5,349.4 1025,350 1023.5,349.6 1022,349.9 1020.5,349.4 1019,349.6 1017.5,349.7 1016,349.3 1014.5,349.5 1013,349.9 1011.5,349.4 1010,349.4 1008.5,350 1007,349.9 1005.5,349.8 1004,349.9 1002.5,349.7 1001,349.4 999.5,349.8 998,349.7 996.5,349.4 995,349.3 993.5,349.6 992,349.8 990.5,349.8 989,349.4 987.5,349.7 986,349.4 984.5,349.5 983,349.4 981.5,349.9 980,349.9 978.5,349.9 977,349.4 975.5,349.4 974,349.5 972.5,349.8 971,349.7 969.5,349.7 968,349.3 966.5,350 965,349.7 963.5,349.3 962,349.4 960.5,349.5 959,349.5 957.5,349.7 956,349.6 954.5,349.4 953,349.6 951.5,349.7 950,349.2 948.5,349.7 947,349.9 945.5,349.9 944,349.5 942.5,350 941,349.3 939.5,349.9 938,349.5 936.5,349.4 935,349.7 933.5,349.3 932,349.3 930.5,349.5 929,349.5 927.5,349.7 926,349.9 924.5,349.4 923,349.5 921.5,349.7 920,349.7 918.5,349.8 917,350 915.5,350 914,349.7 912.5,349.4 911,350 909.5,349.7 908,349.9 906.5,349.9 905,349.9 903.5,349.4 902,349.7 900.5,350 899,349.8 897.5,349.3 896,349.6 894.5,349.9 893,349.9 891.5,349.9 890,349.9 888.5,349.7 887,349.9 885.5,349.6 884,349.4 882.5,349.6 881,350 879.5,350 878,349.4 876.5,348.8 875,348.3 873.5,348.1 872,347.2 870.5,346.6 869,346.2 867.5,345.9 866,345.2 864.5,344.6 863,344.6 861.5,344.3 860,343.7 858.5,343.2 857,343.3 855.5,342.7 854,342.8 852.5,342 851,341.4 849.5,341 848,341.5 846.5,341.2 845,340 843.5,339.7 842,339.1 840.5,338.5 839,338.2 837.5,337 836,336.7 834.5,336.2 833,335.6 831.5,335.1 830,334 828.5,333.3 827,333.1 825.5,332.7 824,331.7 822.5,331 821,330.6 819.5,330 818,328.8 816.5,329.2 815,329.2 813.5,329.6 812,329.7 810.5,329.7 809,329.4 807.5,330.2 806,329.8 804.5,330.1 803,329.1 801.5,329 800,328.1 798.5,328 797,327.2 795.5,327 794,326.4 792.5,325.8 791,325.5 789.5,324.5 788,324.1 786.5,323.7 785,322.9 783.5,322 782,322.7 780.5,323 779,322.8 777.5,323.4 776,323.7 774.5,323.9 773,324.5 771.5,324.9 770,325.5 768.5,325 767,324.6 765.5,323.9 764,322.8 762.5,322.9 761,321.7 759.5,321.2 758,320.9 756.5,319.9 755,319.3 753.5,317.9 752,317.2 750.5,317.7 749,317.6 747.5,317.6 746,317.8 744.5,318.2 743,318.2 741.5,318.9 740,318.7 738.5,319.2 737,318.8 735.5,319.4 734,319.6 732.5,319.9 731,319.4 729.5,319.2 728,318.9 726.5,317.7 725,317.5 723.5,316.9 722,316.3 720.5,315.8 719,314.9 717.5,314.3 716,313.5 714.5,313.4 713,314.3 711.5,314.4 710,314.6 708.5,314.5 707,315.3 705.5,315.4 704,315.3 702.5,315.8 701,316.4 699.5,316 698,316.4 696.5,316.9 695,316.8 693.5,316.4 692,317.1 690.5,317 689,317.3 687.5,317 686,313.1 684.5,312.8 683,312.7 681.5,312.1 680,312.2 678.5,311.7 677,311.8 675.5,311.7 674,311.3 672.5,311.3 671,310.8 669.5,311.1 668,311.3 666.5,310.9 665,311.3 663.5,310.9 662,311.1 660.5,311.4 659,311 657.5,310.6 656,310.9 654.5,311.6 653,312.1 651.5,312 650,312.7 648.5,312.9 647,313.1 645.5,312.6 644,312.8 642.5,313.4 641,313.7 639.5,313.6 638,313.7 636.5,314.3 635,314.2 633.5,314.6 632,314.4 630.5,314 629,314.1 627.5,313.4 626,313.2 624.5,313.2 623,312.6 621.5,312.5 620,312.2 618.5,313 617,312.5 615.5,313.3 614,313 612.5,313.3 611,313 609.5,313.2 608,313.6 606.5,313.7 605,314.2 603.5,313.9 602,314.3 600.5,314.7 599,314.6 597.5,314.7 596,314.9 594.5,314.9 593,315.4 591.5,315.2 590,315.6 588.5,315.5 587,315.1 585.5,315.3 584,315.4 582.5,316 581,315.4 579.5,315.8 578,316 576.5,315.9 575,316 573.5,316.2 572,315.7 570.5,316.2 569,316.4 567.5,316.1 566,316.5 564.5,316 563,316.7 561.5,316.8 560,316.8 558.5,316.5 557,316.9 555.5,317.1 554,316.7 552.5,317.6 551,317.3 549.5,317.4 548,317.3 546.5,318 545,317.6 543.5,318 542,318.2 540.5,317.9 539,317.8 537.5,318 536,318.2 534.5,317.8 533,318.1 531.5,318.5 530,318.1 528.5,318.5 527,318.3 525.5,318.1 524,318.3 522.5,318.2 521,318.4 519.5,318.8 518,318.8 516.5,319 515,319 513.5,318.5 512,319 510.5,318.9 509,318.7 507.5,318.7 506,319.1 504.5,319 503,319.3 501.5,318.9 500,319.2 498.5,319.5 497,319.6 495.5,319.5 494,319.8 492.5,319.6 491,319.6 489.5,319.9 488,320.1 486.5,320.2 485,320.1 483.5,320 482,320.5 480.5,320.6 479,320.3 477.5,320.7 476,320.4 474.5,320.7 473,321.1 471.5,320.7 470,321.1 468.5,321.3 467,321.3 465.5,321.6 464,321.1 462.5,321.1 461,321.2 459.5,321.3 458,321.2 456.5,321.6 455,321.8 453.5,321.8 452,321.4 450.5,322.1 449,321.7 447.5,321.9 446,321.8 444.5,322.2 443,322.2 441.5,322.5 440,322.3 438.5,322.2 437,322.2 435.5,322.2 434,322.7 432.5,322.2 431,322.4 429.5,322.4 428,322.6 426.5,323 425,323.1 423.5,322.9 422,323.1 420.5,322.6 419,323.2 417.5,322.7 416,323 414.5,323.3 413,322.9 411.5,323.4 410,323 408.5,323.3 407,323.4 405.5,323.3 404,323 402.5,323.7 401,323.5 399.5,323.4 398,323.5 396.5,323.5 395,323.2 393.5,323.3 392,323 390.5,323.6 389,323.2 387.5,323.7 386,323 384.5,323.7 383,323 381.5,323.5 380,322.8 378.5,323 377,323.1 375.5,323.1 374,323.1 372.5,322.8 371,322.5 369.5,322.7 368,322.7 366.5,322.3 365,322.3 363.5,322.1 362,321.5 360.5,321.2 359,321 357.5,321 356,321.1 354.5,320.7 353,320.1 351.5,320.3 350,319.8 348.5,320.2 347,319.9 345.5,319.8 344,319.5 342.5,319.3 341,318.6 339.5,318.2 338,318 336.5,317.7 335,317.5 333.5,317.2 332,317.4 330.5,317 329,316.4 327.5,316.7 326,316.3 324.5,315.5 323,315.9 321.5,314.9 320,315 318.5,314.9 317,314.4 315.5,313.7 314,313.6 312.5,313.5 311,312.9 309.5,312.1 308,312.3 306.5,311.2 305,311.2 303.5,310.7 302,303.5Z" fill="#0808d2"/>
<path d="M304,301.8 H600" stroke="#2a3cf0" stroke-width="1.6" opacity="0.8"/>
<path d="M84,416.4 H1041.6" stroke="#15158f" stroke-width="2.9"/>
<path d="M302,17.5 V312" stroke="#e3243a" stroke-width="2.1" stroke-dasharray="5,4.3" fill="none"/>
<path d="M656.6,17.5 V310" stroke="#e3243a" stroke-width="2.1" stroke-dasharray="5,4.3" fill="none"/>
<path d="M322,50.7 H634" stroke="#fbd9d9" stroke-width="1.2"/>
<path d="M316.5,50.7 l6.6,-3.2 v6.4z M639,50.7 l-6.6,-3.2 v6.4z" fill="#e3202c"/>
<path d="M681,50.7 H998" stroke="#ec2a36" stroke-width="2"/>
<path d="M675,50.7 l9,-3.8 v7.6z M1004.6,50.7 l-9,-3.8 v7.6z" fill="#e3202c"/>
<path d="M562.8,478.5 l3.2,6 h-6.4z" fill="#8a93e0"/>
<text class="sa" x="74" y="122" font-size="6.5" fill="#b4b45a">C1</text>
<text class="sa" x="74" y="185.5" font-size="6.5" fill="#d08080">C2</text>
<text class="sa" x="74" y="299" font-size="6.5" fill="#8088d0">C3</text>
<text class="sa" x="74" y="438.5" font-size="6.5" fill="#5a5ab8">C4</text>
<path d="M75,442 h8.5" stroke="#30307a" stroke-width="1.4"/>
<text class="sa" x="1042.5" y="248" font-size="5" fill="#aaaaaa">◂</text>
<text class="se" x="388.63" y="40" font-size="22" fill="#242424" stroke="#242424" stroke-width="0.3" textLength="175.50" lengthAdjust="spacingAndGlyphs">Step-down mode</text>
<text class="se" x="764.21" y="41.4" font-size="22" fill="#242424" stroke="#242424" stroke-width="0.3" textLength="145.67" lengthAdjust="spacingAndGlyphs">Step-up mode</text>
<text class="se" x="380.19" y="92.4" font-size="20" fill="#242424" stroke="#242424" stroke-width="0.3" textLength="16.76" lengthAdjust="spacingAndGlyphs"><tspan font-style="italic">v</tspan><tspan font-style="italic" font-size="12.5" dy="3.6">o</tspan></text>
<text class="se" x="402.71" y="92.4" font-size="20" fill="#242424" stroke="#242424" stroke-width="0.3" textLength="116.21" lengthAdjust="spacingAndGlyphs">[5000V/<tspan font-style="italic">div</tspan>]</text>
<text class="se" x="385.44" y="168.3" font-size="20" fill="#242424" stroke="#242424" stroke-width="0.3" textLength="24.12" lengthAdjust="spacingAndGlyphs"><tspan font-style="italic">v</tspan><tspan font-style="italic" font-size="12.5" dy="3.6">ac</tspan></text>
<text class="se" x="414.72" y="168.3" font-size="20" fill="#242424" stroke="#242424" stroke-width="0.3" textLength="115.48" lengthAdjust="spacingAndGlyphs">[2000V/<tspan font-style="italic">div</tspan>]</text>
<text class="se" x="385.70" y="273.2" font-size="20" fill="#242424" stroke="#242424" stroke-width="0.3" textLength="20.85" lengthAdjust="spacingAndGlyphs"><tspan font-style="italic">i</tspan><tspan font-style="italic" font-size="12.5" dy="3.6">ac</tspan></text>
<text class="se" x="409.50" y="273.2" font-size="20" fill="#242424" stroke="#242424" stroke-width="0.3" textLength="104.92" lengthAdjust="spacingAndGlyphs">[100A/<tspan font-style="italic">div</tspan>]</text>
<text class="se" x="374.41" y="407.4" font-size="20" fill="#242424" stroke="#242424" stroke-width="0.3" textLength="25.97" lengthAdjust="spacingAndGlyphs"><tspan font-style="italic">v</tspan><tspan font-style="italic" font-size="12.5" dy="3.6">in</tspan></text>
<text class="se" x="403.21" y="407.4" font-size="20" fill="#242424" stroke="#242424" stroke-width="0.3" textLength="116.31" lengthAdjust="spacingAndGlyphs">[1000V/<tspan font-style="italic">div</tspan>]</text>
<text class="se" x="903.58" y="457.4" font-size="20" fill="#242424" stroke="#242424" stroke-width="0.3" textLength="123.75" lengthAdjust="spacingAndGlyphs">[500 ms/<tspan font-style="italic">div</tspan>]</text>
</g>
<text class="se" x="21.36" y="540.3" font-size="44" fill="#0d0d0d" stroke="#0d0d0d" stroke-width="0.3" textLength="49.89" lengthAdjust="spacingAndGlyphs">(<tspan font-weight="bold">a</tspan>)</text>
<text class="se" x="82.24" y="540.3" font-size="44" fill="#0d0d0d" stroke="#0d0d0d" stroke-width="0.3" textLength="217.04" lengthAdjust="spacingAndGlyphs">Experiment</text>
<text class="se" x="310.81" y="540.3" font-size="44" fill="#0d0d0d" stroke="#0d0d0d" stroke-width="0.3" textLength="106.22" lengthAdjust="spacingAndGlyphs">result</text>
<text class="se" x="427.68" y="540.3" font-size="44" fill="#0d0d0d" stroke="#0d0d0d" stroke-width="0.3" textLength="36.97" lengthAdjust="spacingAndGlyphs">of</text>
<text class="se" x="476.80" y="540.3" font-size="44" fill="#0d0d0d" stroke="#0d0d0d" stroke-width="0.3" textLength="134.57" lengthAdjust="spacingAndGlyphs">voltage</text>
<text class="se" x="622.83" y="540.3" font-size="44" fill="#0d0d0d" stroke="#0d0d0d" stroke-width="0.3" textLength="82.30" lengthAdjust="spacingAndGlyphs">gain</text>
<text class="se" x="715.79" y="540.3" font-size="44" fill="#0d0d0d" stroke="#0d0d0d" stroke-width="0.3" textLength="36.87" lengthAdjust="spacingAndGlyphs">of</text>
<text class="se" x="763.88" y="540.3" font-size="44" fill="#0d0d0d" stroke="#0d0d0d" stroke-width="0.3" textLength="60.09" lengthAdjust="spacingAndGlyphs">the</text>
<text class="se" x="832.85" y="540.3" font-size="44" fill="#0d0d0d" stroke="#0d0d0d" stroke-width="0.3" textLength="112.99" lengthAdjust="spacingAndGlyphs">dc–dc</text>
<text class="se" x="955.21" y="540.3" font-size="44" fill="#0d0d0d" stroke="#0d0d0d" stroke-width="0.3" textLength="144.47" lengthAdjust="spacingAndGlyphs">module</text>
<text class="se" x="197.89" y="1346" font-size="44" fill="#0d0d0d" stroke="#0d0d0d" stroke-width="0.3" textLength="54.12" lengthAdjust="spacingAndGlyphs">(<tspan font-weight="bold">b</tspan>)</text>
<text class="se" x="263.00" y="1346" font-size="44" fill="#0d0d0d" stroke="#0d0d0d" stroke-width="0.3" textLength="145.87" lengthAdjust="spacingAndGlyphs">Voltage</text>
<text class="se" x="418.49" y="1346" font-size="44" fill="#0d0d0d" stroke="#0d0d0d" stroke-width="0.3" textLength="79.92" lengthAdjust="spacingAndGlyphs">gain</text>
<text class="se" x="510.83" y="1346" font-size="44" fill="#0d0d0d" stroke="#0d0d0d" stroke-width="0.3" textLength="104.61" lengthAdjust="spacingAndGlyphs">range</text>
<text class="se" x="626.67" y="1346" font-size="44" fill="#0d0d0d" stroke="#0d0d0d" stroke-width="0.3" textLength="37.18" lengthAdjust="spacingAndGlyphs">of</text>
<text class="se" x="675.39" y="1346" font-size="44" fill="#0d0d0d" stroke="#0d0d0d" stroke-width="0.3" textLength="59.67" lengthAdjust="spacingAndGlyphs">the</text>
<text class="se" x="744.96" y="1346" font-size="44" fill="#0d0d0d" stroke="#0d0d0d" stroke-width="0.3" textLength="177.57" lengthAdjust="spacingAndGlyphs">converter</text>
<text class="se" x="474.88" y="1265.2" font-size="31.5" fill="#262626" stroke="#262626" stroke-width="0.35" textLength="81.23" lengthAdjust="spacingAndGlyphs">Input</text>
<text class="se" x="562.90" y="1265.2" font-size="31.5" fill="#262626" stroke="#262626" stroke-width="0.35" textLength="105.01" lengthAdjust="spacingAndGlyphs">voltage</text>
<text class="se" x="674.32" y="1265.2" font-size="31.5" fill="#262626" stroke="#262626" stroke-width="0.35" textLength="42.88" lengthAdjust="spacingAndGlyphs">(V)</text>
<g transform="translate(43.1,981) rotate(-90)">
<text class="se" x="0.00" y="0" font-size="32.5" fill="#262626" stroke="#262626" stroke-width="0.35" textLength="106.86" lengthAdjust="spacingAndGlyphs">Voltage</text>
<text class="se" x="112.22" y="0" font-size="32.5" fill="#262626" stroke="#262626" stroke-width="0.35" textLength="70.53" lengthAdjust="spacingAndGlyphs">ratio</text>
</g>
<path d="M135.2,1181.4 L135.2,673 147,678.5 158.9,684 170.7,689.4 182.5,694.6 194.4,699.7 206.2,704.7 218.1,709.6 229.9,714.5 241.7,719.2 253.6,723.8 265.4,728.3 277.2,732.8 289.1,737.1 300.9,741.4 312.8,745.6 324.6,749.7 336.4,753.7 348.3,757.7 360.1,761.6 372,765.4 383.8,769.1 395.6,772.8 407.5,776.4 419.3,780 431.1,783.5 443,786.9 454.8,790.3 466.7,793.6 478.5,796.9 490.3,800.1 502.2,803.2 514,806.3 525.8,809.4 537.7,812.4 549.5,815.3 561.4,818.2 573.2,821.1 585,823.9 596.9,826.7 608.7,829.4 620.5,832.1 632.4,834.7 644.2,837.3 656,839.9 667.9,842.4 679.7,844.9 691.6,847.4 703.4,849.8 715.2,852.2 727.1,854.5 738.9,856.9 750.8,859.1 762.6,861.4 774.4,863.6 786.3,865.8 798.1,868 809.9,870.1 821.8,872.2 833.6,874.3 845.5,876.3 857.3,878.4 869.1,880.3 881,882.3 892.8,884.3 904.6,886.2 916.5,888.1 928.3,889.9 940.2,891.8 952,893.6 963.8,895.4 975.7,897.2 987.5,898.9 999.3,900.7 1011.2,902.4 1023,904.1 1034.9,905.7 1046.7,907.4 1058.5,909 1070.4,910.6 1082.2,912.2 L1082.2,1181.4 Z" fill="url(#hatch)"/>
<path d="M135.2,673 L147,678.5 L158.9,684 L170.7,689.4 L182.5,694.6 L194.4,699.7 L206.2,704.7 L218.1,709.6 L229.9,714.5 L241.7,719.2 L253.6,723.8 L265.4,728.3 L277.2,732.8 L289.1,737.1 L300.9,741.4 L312.8,745.6 L324.6,749.7 L336.4,753.7 L348.3,757.7 L360.1,761.6 L372,765.4 L383.8,769.1 L395.6,772.8 L407.5,776.4 L419.3,780 L431.1,783.5 L443,786.9 L454.8,790.3 L466.7,793.6 L478.5,796.9 L490.3,800.1 L502.2,803.2 L514,806.3 L525.8,809.4 L537.7,812.4 L549.5,815.3 L561.4,818.2 L573.2,821.1 L585,823.9 L596.9,826.7 L608.7,829.4 L620.5,832.1 L632.4,834.7 L644.2,837.3 L656,839.9 L667.9,842.4 L679.7,844.9 L691.6,847.4 L703.4,849.8 L715.2,852.2 L727.1,854.5 L738.9,856.9 L750.8,859.1 L762.6,861.4 L774.4,863.6 L786.3,865.8 L798.1,868 L809.9,870.1 L821.8,872.2 L833.6,874.3 L845.5,876.3 L857.3,878.4 L869.1,880.3 L881,882.3 L892.8,884.3 L904.6,886.2 L916.5,888.1 L928.3,889.9 L940.2,891.8 L952,893.6 L963.8,895.4 L975.7,897.2 L987.5,898.9 L999.3,900.7 L1011.2,902.4 L1023,904.1 L1034.9,905.7 L1046.7,907.4 L1058.5,909 L1070.4,910.6 L1082.2,912.2" fill="none" stroke="#2c2c2c" stroke-width="1.5"/>
<path d="M135.2,1124.2 h10 M135.2,1067 h10 M135.2,1009.8 h10 M135.2,952.6 h10 M135.2,895.4 h10 M135.2,838.2 h10 M135.2,781 h10 M135.2,723.8 h10 M135.2,666.6 h10 M253.6,1181.4 v-10 M372,1181.4 v-10 M490.3,1181.4 v-10 M608.7,1181.4 v-10 M727.1,1181.4 v-10 M845.5,1181.4 v-10 M963.8,1181.4 v-10" stroke="#262626" stroke-width="1.6" fill="none"/>
<rect x="135.2" y="609.4" width="947" height="572" fill="none" stroke="#262626" stroke-width="1.8"/>
<text class="sa" x="113.56" y="1228.1" font-size="26" fill="#333333" textLength="45.30" lengthAdjust="spacingAndGlyphs">450</text>
<text class="sa" x="231.93" y="1228.1" font-size="26" fill="#333333" textLength="45.30" lengthAdjust="spacingAndGlyphs">500</text>
<text class="sa" x="350.31" y="1228.1" font-size="26" fill="#333333" textLength="45.30" lengthAdjust="spacingAndGlyphs">550</text>
<text class="sa" x="468.68" y="1228.1" font-size="26" fill="#333333" textLength="45.30" lengthAdjust="spacingAndGlyphs">600</text>
<text class="sa" x="587.06" y="1228.1" font-size="26" fill="#333333" textLength="45.30" lengthAdjust="spacingAndGlyphs">650</text>
<text class="sa" x="705.43" y="1228.1" font-size="26" fill="#333333" textLength="45.30" lengthAdjust="spacingAndGlyphs">700</text>
<text class="sa" x="823.81" y="1228.1" font-size="26" fill="#333333" textLength="45.30" lengthAdjust="spacingAndGlyphs">750</text>
<text class="sa" x="942.18" y="1228.1" font-size="26" fill="#333333" textLength="45.30" lengthAdjust="spacingAndGlyphs">800</text>
<text class="sa" x="1060.56" y="1228.1" font-size="26" fill="#333333" textLength="45.30" lengthAdjust="spacingAndGlyphs">850</text>
<text class="sa" x="93.00" y="1189.9" font-size="26" fill="#333333" textLength="17.36" lengthAdjust="spacingAndGlyphs">0</text>
<text class="sa" x="93.48" y="1132.7" font-size="26" fill="#333333" textLength="16.16" lengthAdjust="spacingAndGlyphs">5</text>
<text class="sa" x="79.50" y="1075.5" font-size="26" fill="#333333" textLength="31.81" lengthAdjust="spacingAndGlyphs">10</text>
<text class="sa" x="79.62" y="1018.3" font-size="26" fill="#333333" textLength="30.15" lengthAdjust="spacingAndGlyphs">15</text>
<text class="sa" x="79.91" y="961.1" font-size="26" fill="#333333" textLength="31.39" lengthAdjust="spacingAndGlyphs">20</text>
<text class="sa" x="79.97" y="903.9" font-size="26" fill="#333333" textLength="29.78" lengthAdjust="spacingAndGlyphs">25</text>
<text class="sa" x="79.91" y="846.7" font-size="26" fill="#333333" textLength="31.39" lengthAdjust="spacingAndGlyphs">30</text>
<text class="sa" x="79.97" y="789.5" font-size="26" fill="#333333" textLength="29.78" lengthAdjust="spacingAndGlyphs">35</text>
<text class="sa" x="79.91" y="732.3" font-size="26" fill="#333333" textLength="31.39" lengthAdjust="spacingAndGlyphs">40</text>
<text class="sa" x="79.97" y="675.1" font-size="26" fill="#333333" textLength="29.78" lengthAdjust="spacingAndGlyphs">45</text>
<text class="sa" x="79.91" y="617.9" font-size="26" fill="#333333" textLength="31.39" lengthAdjust="spacingAndGlyphs">50</text>
</svg></body></html>
